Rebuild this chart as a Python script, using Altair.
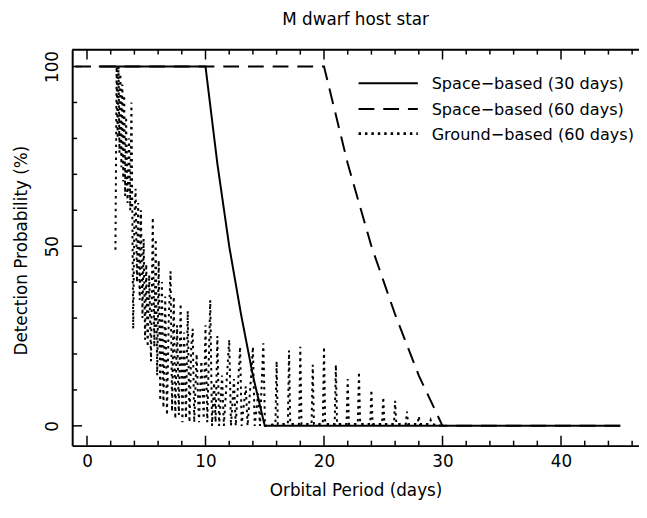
import altair as alt
import pandas as pd

chart_title = "M dwarf host star"
x_label = "Orbital Period (days)"
y_label = "Detection Probability (%)"
series_names = ["Space−based (30 days)", "Space−based (60 days)", "Ground−based (60 days)"]

# Space-based, 30-day baseline
space30_period = [1, 10, 11, 12, 13, 14, 15, 45]
space30_prob = [100, 100, 73, 50, 31, 14, 0, 0]

# Space-based, 60-day baseline
space60_period = [-1.0, 20, 22, 24, 26, 28, 30, 45]
space60_prob = [100, 100, 73, 50, 31, 14, 0, 0]

# Ground-based, 60-day baseline
ground_period = [
    2.40, 2.50, 2.58, 2.66, 2.74, 2.82, 2.90, 2.98, 3.06, 3.14, 3.22, 3.30, 3.42, 3.55, 3.65,
    3.75, 3.90, 4.00, 4.10, 4.22, 4.32, 4.45, 4.55, 4.68, 4.78, 4.90, 5.00, 5.12, 5.25, 5.40,
    5.55, 5.68, 5.80, 5.92, 6.05, 6.18, 6.32, 6.45, 6.60, 6.75, 6.90, 7.05, 7.18, 7.32, 7.45,
    7.60, 7.75, 7.90, 8.05, 8.20, 8.35, 8.50, 8.65, 8.80, 8.92, 9.05, 9.25, 9.45, 9.65, 9.85,
    10.00, 10.15, 10.40, 10.55, 10.72, 10.85, 11.00, 11.15, 11.40, 11.55, 11.85, 12.00, 12.15,
    12.40, 12.55, 12.80, 12.92, 13.05, 13.40, 13.55, 13.85, 14.00, 14.15, 14.45, 14.60, 14.88,
    15.02, 15.90, 16.00, 16.10, 16.95, 17.05, 17.15, 17.90, 18.00, 18.10, 18.95, 19.05, 19.15,
    19.90, 20.00, 20.10, 20.90, 21.00, 21.10, 21.90, 22.00, 22.10, 22.85, 22.95, 23.05, 23.90,
    24.00, 24.10, 24.90, 25.00, 25.10, 25.90, 26.00, 26.10, 26.90, 27.00, 27.10, 27.90, 28.00,
    28.10, 28.90, 29.00, 29.10, 30.00,
]
ground_prob = [
    49, 100, 80, 100, 76, 98, 72, 95, 68, 92, 64, 86, 62, 80, 60,
    90, 27, 58, 66, 40, 62, 35, 60, 30, 52, 24, 45, 22, 42, 18,
    58, 22, 52, 14, 46, 7, 40, 5, 36, 3, 30, 43, 4, 36, 2,
    28, 3, 34, 1, 26, 2, 32, 1, 22, 27, 1, 20, 1, 18, 2,
    28, 1, 35, 0, 12, 1, 25, 0, 14, 0, 16, 24, 0,
    13, 0, 15, 22, 0, 11, 0, 14, 22, 0, 9, 0, 23,
    0, 0.5, 18, 0.5, 0.5, 21, 0.5, 0.5, 22, 0.5, 0.5, 17, 0.5,
    0.5, 22, 0.5, 0.5, 17, 0.5, 0.5, 13, 0.5, 0.5, 15, 0.5, 0.5,
    10, 0.5, 0.5, 8, 0.5, 0.5, 7, 0.5, 0.5, 4, 0.5, 0.5, 2.7,
    0.5, 0.5, 1.6, 0.5, 0,
]

x_major = [0, 10, 20, 30, 40]
x_minor = [2, 4, 6, 8, 12, 14, 16, 18, 22, 24, 26, 28, 32, 34, 36, 38, 42, 44, 46]
y_major = [0, 50, 100]
y_minor = [10, 20, 30, 40, 60, 70, 80, 90]

W, H = 574, 401
FONT = "DejaVu Sans"
FS = 17
LEG_FS = 16.3
dash_styles = [[1, 0], [16, 9], [2.5, 4]]
line_widths = [2, 2, 2.8]

rows = []
for name, ps, vs in [
    (series_names[0], space30_period, space30_prob),
    (series_names[1], space60_period, space60_prob),
    (series_names[2], ground_period, ground_prob),
]:
    for i, (p, v) in enumerate(zip(ps, vs)):
        rows.append({"series": name, "period": p, "prob": v, "idx": i})
df = pd.DataFrame(rows)

xs = alt.Scale(domain=[-1.25, 46.58], nice=False, zero=False)
ys = alt.Scale(domain=[-5.5, 104.7], nice=False, zero=False)

x_axis = alt.Axis(
    values=x_major, title=x_label, grid=False, ticks=False, tickSize=0,
    domainColor="black", domainWidth=2, labelFontSize=FS, labelFont=FONT,
    labelColor="black", labelPadding=8, titleFontSize=FS, titleFont=FONT,
    titleFontWeight="normal", titleColor="black", titleY=46, titleBaseline="middle",
    labelFlush=False,
)
y_axis = alt.Axis(
    values=y_major, title=y_label, grid=False, ticks=False, tickSize=0,
    domainColor="black", domainWidth=2, labelFontSize=FS, labelFont=FONT,
    labelColor="black", labelAngle=-90, labelAlign="center", labelBaseline="bottom",
    labelPadding=11, titleFontSize=FS, titleFont=FONT, titleFontWeight="normal",
    titleColor="black", titleX=-51, titleY=203, titleAlign="center",
    titleBaseline="middle", labelFlush=False,
)

lines = alt.Chart(df).mark_line(color="black", clip=True).encode(
    x=alt.X("period:Q", scale=xs, axis=x_axis),
    y=alt.Y("prob:Q", scale=ys, axis=y_axis),
    strokeDash=alt.StrokeDash(
        "series:N", scale=alt.Scale(domain=series_names, range=dash_styles), legend=None
    ),
    strokeWidth=alt.StrokeWidth(
        "series:N", scale=alt.Scale(domain=series_names, range=line_widths), legend=None
    ),
    order=alt.Order("idx:Q"),
)

def ticks(values, channel, length, side):
    d = pd.DataFrame({"v": values})
    base = alt.Chart(d).mark_rule(color="black", strokeWidth=1.5)
    if channel == "x":
        if side == "bottom":
            return base.encode(x=alt.X("v:Q", scale=xs), y=alt.value(H), y2=alt.value(H - length))
        return base.encode(x=alt.X("v:Q", scale=xs), y=alt.value(0), y2=alt.value(length))
    return base.encode(y=alt.Y("v:Q", scale=ys), x=alt.value(0), x2=alt.value(length))

top_line = alt.Chart(pd.DataFrame({"a": [0]})).mark_rule(color="black", strokeWidth=2).encode(
    x=alt.value(0), x2=alt.value(W), y=alt.value(0)
)

# hand-placed legend (inside the frame, top right)
legend_layers = []
legend_rows_y = [34, 60, 85]
for name, dash, lw, ly in zip(series_names, dash_styles, line_widths, legend_rows_y):
    one = pd.DataFrame({"label": [name]})
    legend_layers.append(
        alt.Chart(one).mark_rule(color="black", strokeDash=dash, strokeWidth=lw).encode(
            x=alt.value(290), x2=alt.value(350), y=alt.value(ly)
        )
    )
    legend_layers.append(
        alt.Chart(one).mark_text(align="left", baseline="middle", font=FONT, fontSize=LEG_FS,
                                 color="black").encode(
            x=alt.value(364), y=alt.value(ly + 1), text="label:N"
        )
    )

chart = alt.layer(
    lines,
    ticks(x_major, "x", 10, "bottom"),
    ticks(x_minor, "x", 5, "bottom"),
    ticks(x_major, "x", 10, "top"),
    ticks(x_minor, "x", 5, "top"),
    ticks(y_major, "y", 10, "left"),
    ticks(y_minor, "y", 5, "left"),
    top_line,
    *legend_layers,
).properties(
    width=W, height=H,
    title=alt.Title(chart_title, fontSize=FS, font=FONT, fontWeight="normal",
                    color="black", offset=7, baseline="alphabetic", frame="group", anchor="middle"),
    autosize=alt.AutoSizeParams(type="none"),
    padding={"left": 65, "top": 39, "right": 0, "bottom": 60},
).configure_view(stroke=None).configure(background="white")

chart.save("out.html", embed_options={"renderer": "svg", "actions": False})
